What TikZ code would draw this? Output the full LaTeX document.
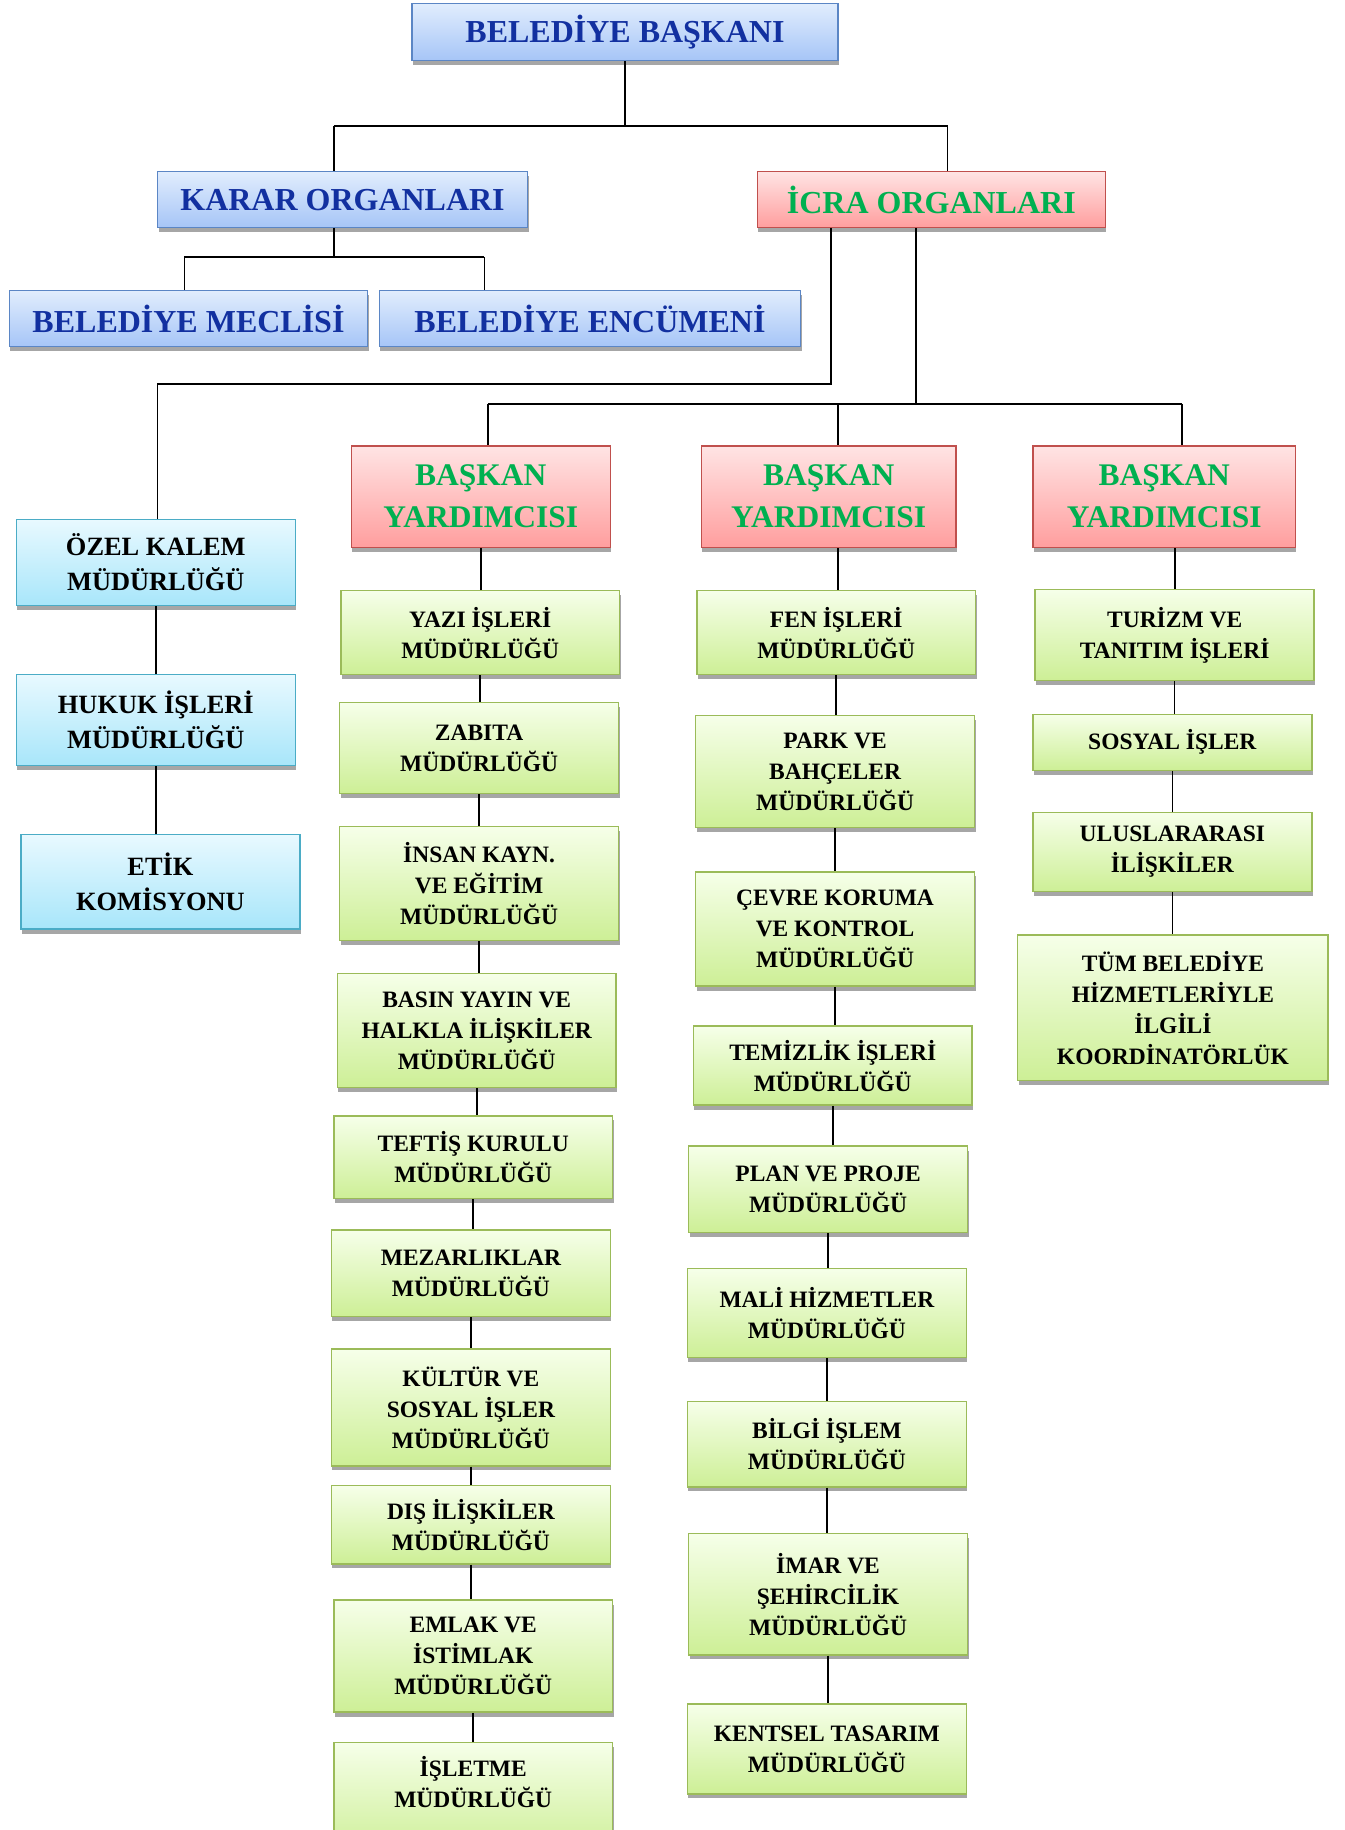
\documentclass[tikz,border=0pt]{standalone}
\usepackage{fontspec}
\setmainfont{Liberation Serif}
\usetikzlibrary{shadows}
\definecolor{blueT}{HTML}{E1EDFD}
\definecolor{blueB}{HTML}{A6C5F7}
\definecolor{blueD}{HTML}{5B86C5}
\definecolor{blueTx}{HTML}{1230A0}
\definecolor{redT}{HTML}{FFE4E4}
\definecolor{redB}{HTML}{FF9E9E}
\definecolor{redD}{HTML}{C0504D}
\definecolor{greenTx}{HTML}{00B050}
\definecolor{cyanT}{HTML}{E8F9FF}
\definecolor{cyanB}{HTML}{A8E6FA}
\definecolor{cyanD}{HTML}{4BACC6}
\definecolor{grT}{HTML}{F6FFE9}
\definecolor{grB}{HTML}{CDEF96}
\definecolor{grD}{HTML}{9BBB59}
\newcommand\mkbox[7]{\node[#6, minimum width={(#4-#2)*1.1675pt}, minimum height={(#5-#3)*1.1675pt}] (#1) at ({(#2+#4)/2},{(#3+#5)/2}) {#7};}
\begin{document}
\begin{tikzpicture}[x=1.1675pt,y=-1.1675pt,
  basebox/.style={draw, line width=1.5pt, align=center, inner sep=0pt,
    drop shadow={shadow xshift=1pt, shadow yshift=-4.5pt, fill=black!35, opacity=1}},
  bluebox/.style={basebox, draw=blueD, top color=blueT, bottom color=blueB, text=blueTx,
    font=\bfseries\fontsize{32}{38}\selectfont},
  redbox/.style={basebox, draw=redD, top color=redT, bottom color=redB, text=greenTx,
    font=\bfseries\fontsize{31.5}{42}\selectfont},
  cyanbox/.style={basebox, draw=cyanD, top color=cyanT, bottom color=cyanB, text=black,
    font=\bfseries\fontsize{26.4}{35}\selectfont},
  greenbox/.style={basebox, draw=grD, top color=grT, bottom color=grB, text=black,
    font=\bfseries\fontsize{23.5}{31}\selectfont},
  conn/.style={draw=black, line width=1.6pt}]
\useasboundingbox (0,0) rectangle (1152,1568);
\clip (0,0) rectangle (1152,1568);
\fill[white] (0,0) rectangle (1152,1568);

% top level
\mkbox{bb}{353}{3}{718}{52}{bluebox}{BELEDİYE BAŞKANI}
\mkbox{karar}{135}{147}{452}{195}{bluebox}{KARAR ORGANLARI}
\mkbox{icra}{649}{147}{947}{195}{redbox, font=\bfseries\fontsize{32}{38}\selectfont}{İCRA ORGANLARI}
\mkbox{meclis}{8}{249}{315}{297}{bluebox}{BELEDİYE MECLİSİ}
\mkbox{encumen}{325}{249}{686}{297}{bluebox}{BELEDİYE ENCÜMENİ}

% left column
\mkbox{ozel}{14}{445}{253}{519}{cyanbox}{ÖZEL KALEM\\MÜDÜRLÜĞÜ}
\mkbox{hukuk}{14}{578}{253}{656}{cyanbox}{HUKUK İŞLERİ\\MÜDÜRLÜĞÜ}
\mkbox{etik}{18}{715}{257}{796}{cyanbox}{ETİK\\KOMİSYONU}

% deputies
\mkbox{by1}{301}{382}{523}{469}{redbox}{BAŞKAN\\YARDIMCISI}
\mkbox{by2}{601}{382}{819}{469}{redbox}{BAŞKAN\\YARDIMCISI}
\mkbox{by3}{885}{382}{1110}{469}{redbox}{BAŞKAN\\YARDIMCISI}

% column 1
\mkbox{a1}{292}{506}{531}{578}{greenbox}{YAZI İŞLERİ\\MÜDÜRLÜĞÜ}
\mkbox{a2}{291}{602}{530}{680}{greenbox}{ZABITA\\MÜDÜRLÜĞÜ}
\mkbox{a3}{291}{708}{530}{806}{greenbox}{İNSAN KAYN.\\VE EĞİTİM\\MÜDÜRLÜĞÜ}
\mkbox{a4}{289}{834}{528}{932}{greenbox}{BASIN YAYIN VE\\HALKLA İLİŞKİLER\\MÜDÜRLÜĞÜ}
\mkbox{a5}{286}{956}{525}{1027}{greenbox}{TEFTİŞ KURULU\\MÜDÜRLÜĞÜ}
\mkbox{a6}{284}{1054}{523}{1128}{greenbox}{MEZARLIKLAR\\MÜDÜRLÜĞÜ}
\mkbox{a7}{284}{1156}{523}{1256}{greenbox}{KÜLTÜR VE\\SOSYAL İŞLER\\MÜDÜRLÜĞÜ}
\mkbox{a8}{284}{1273}{523}{1340}{greenbox}{DIŞ İLİŞKİLER\\MÜDÜRLÜĞÜ}
\mkbox{a9}{286}{1371}{525}{1467}{greenbox}{EMLAK VE\\İSTİMLAK\\MÜDÜRLÜĞÜ}
\mkbox{a10}{286}{1493}{525}{1590}{greenbox}{İŞLETME\\MÜDÜRLÜĞÜ\\[4pt]\mbox{}}

% column 2
\mkbox{c1}{597}{506}{836}{578}{greenbox}{FEN İŞLERİ\\MÜDÜRLÜĞÜ}
\mkbox{c2}{596}{613}{835}{709}{greenbox}{PARK VE\\BAHÇELER\\MÜDÜRLÜĞÜ}
\mkbox{c3}{596}{747}{835}{845}{greenbox}{ÇEVRE KORUMA\\VE KONTROL\\MÜDÜRLÜĞÜ}
\mkbox{c4}{594}{879}{833}{947}{greenbox}{TEMİZLİK İŞLERİ\\MÜDÜRLÜĞÜ}
\mkbox{c5}{590}{982}{829}{1056}{greenbox}{PLAN VE PROJE\\MÜDÜRLÜĞÜ}
\mkbox{c6}{589}{1087}{828}{1163}{greenbox}{MALİ HİZMETLER\\MÜDÜRLÜĞÜ}
\mkbox{c7}{589}{1201}{828}{1274}{greenbox}{BİLGİ İŞLEM\\MÜDÜRLÜĞÜ}
\mkbox{c8}{590}{1314}{829}{1418}{greenbox}{İMAR VE\\ŞEHİRCİLİK\\MÜDÜRLÜĞÜ}
\mkbox{c9}{589}{1460}{828}{1537}{greenbox}{KENTSEL TASARIM\\MÜDÜRLÜĞÜ}

% column 3
\mkbox{d1}{887}{505}{1126}{583}{greenbox}{TURİZM VE\\TANITIM İŞLERİ}
\mkbox{d2}{885}{612}{1124}{660}{greenbox}{SOSYAL İŞLER}
\mkbox{d3}{885}{696}{1124}{764}{greenbox}{ULUSLARARASI\\İLİŞKİLER}
\mkbox{d4}{872}{801}{1138}{926}{greenbox}{TÜM BELEDİYE\\HİZMETLERİYLE\\İLGİLİ\\KOORDİNATÖRLÜK}

% connectors: top
\coordinate (j1) at (286,108);
\coordinate (j2) at (812,108);
\draw[conn] (bb.south) -- (bb.south |- j1);
\draw[conn] (j1) -- (j2);
\draw[conn] (j1) -- (j1 |- karar.north);
\draw[conn] (j2) -- (j2 |- icra.north);

% karar
\coordinate (k0) at (286,220);
\coordinate (k1) at (158,220);
\coordinate (k2) at (415,220);
\draw[conn] (k0 |- karar.south) -- (k0);
\draw[conn] (k1) -- (k2);
\draw[conn] (k1) -- (k1 |- meclis.north);
\draw[conn] (k2) -- (k2 |- encumen.north);

% icra -> left column
\coordinate (i1) at (712,329);
\coordinate (i2) at (135,329);
\draw[conn] (i1 |- icra.south) -- (i1) -- (i2) -- (i2 |- ozel.north);
\draw[conn] (ozel.south) -- (ozel.south |- hukuk.north);
\draw[conn] (hukuk.south) -- (hukuk.south |- etik.north);

% icra -> deputies
\coordinate (i3) at (785,346);
\coordinate (b1) at (418,346);
\coordinate (b2) at (718,346);
\coordinate (b3) at (1013,346);
\draw[conn] (i3 |- icra.south) -- (i3);
\draw[conn] (b1) -- (b3);
\draw[conn] (b1) -- (b1 |- by1.north);
\draw[conn] (b2) -- (b2 |- by2.north);
\draw[conn] (b3) -- (b3 |- by3.north);

% deputies -> first units (offset drops)
\coordinate (x2) at (718,0);
\coordinate (x3) at (1007,0);
\draw[conn] (by1.south) -- (by1.south |- a1.north);
\draw[conn] (x2 |- by2.south) -- (x2 |- c1.north);
\draw[conn] (x3 |- by3.south) -- (x3 |- d1.north);

% column chains
\foreach \p/\q in {a1/a2,a2/a3,a3/a4,a4/a5,a5/a6,a6/a7,a7/a8,a8/a9,a9/a10,
                   c1/c2,c2/c3,c3/c4,c4/c5,c5/c6,c6/c7,c7/c8,c8/c9,
                   d1/d2,d2/d3,d3/d4}
  \draw[conn] (\p.south) -- (\p.south |- \q.north);
\end{tikzpicture}
\end{document}
